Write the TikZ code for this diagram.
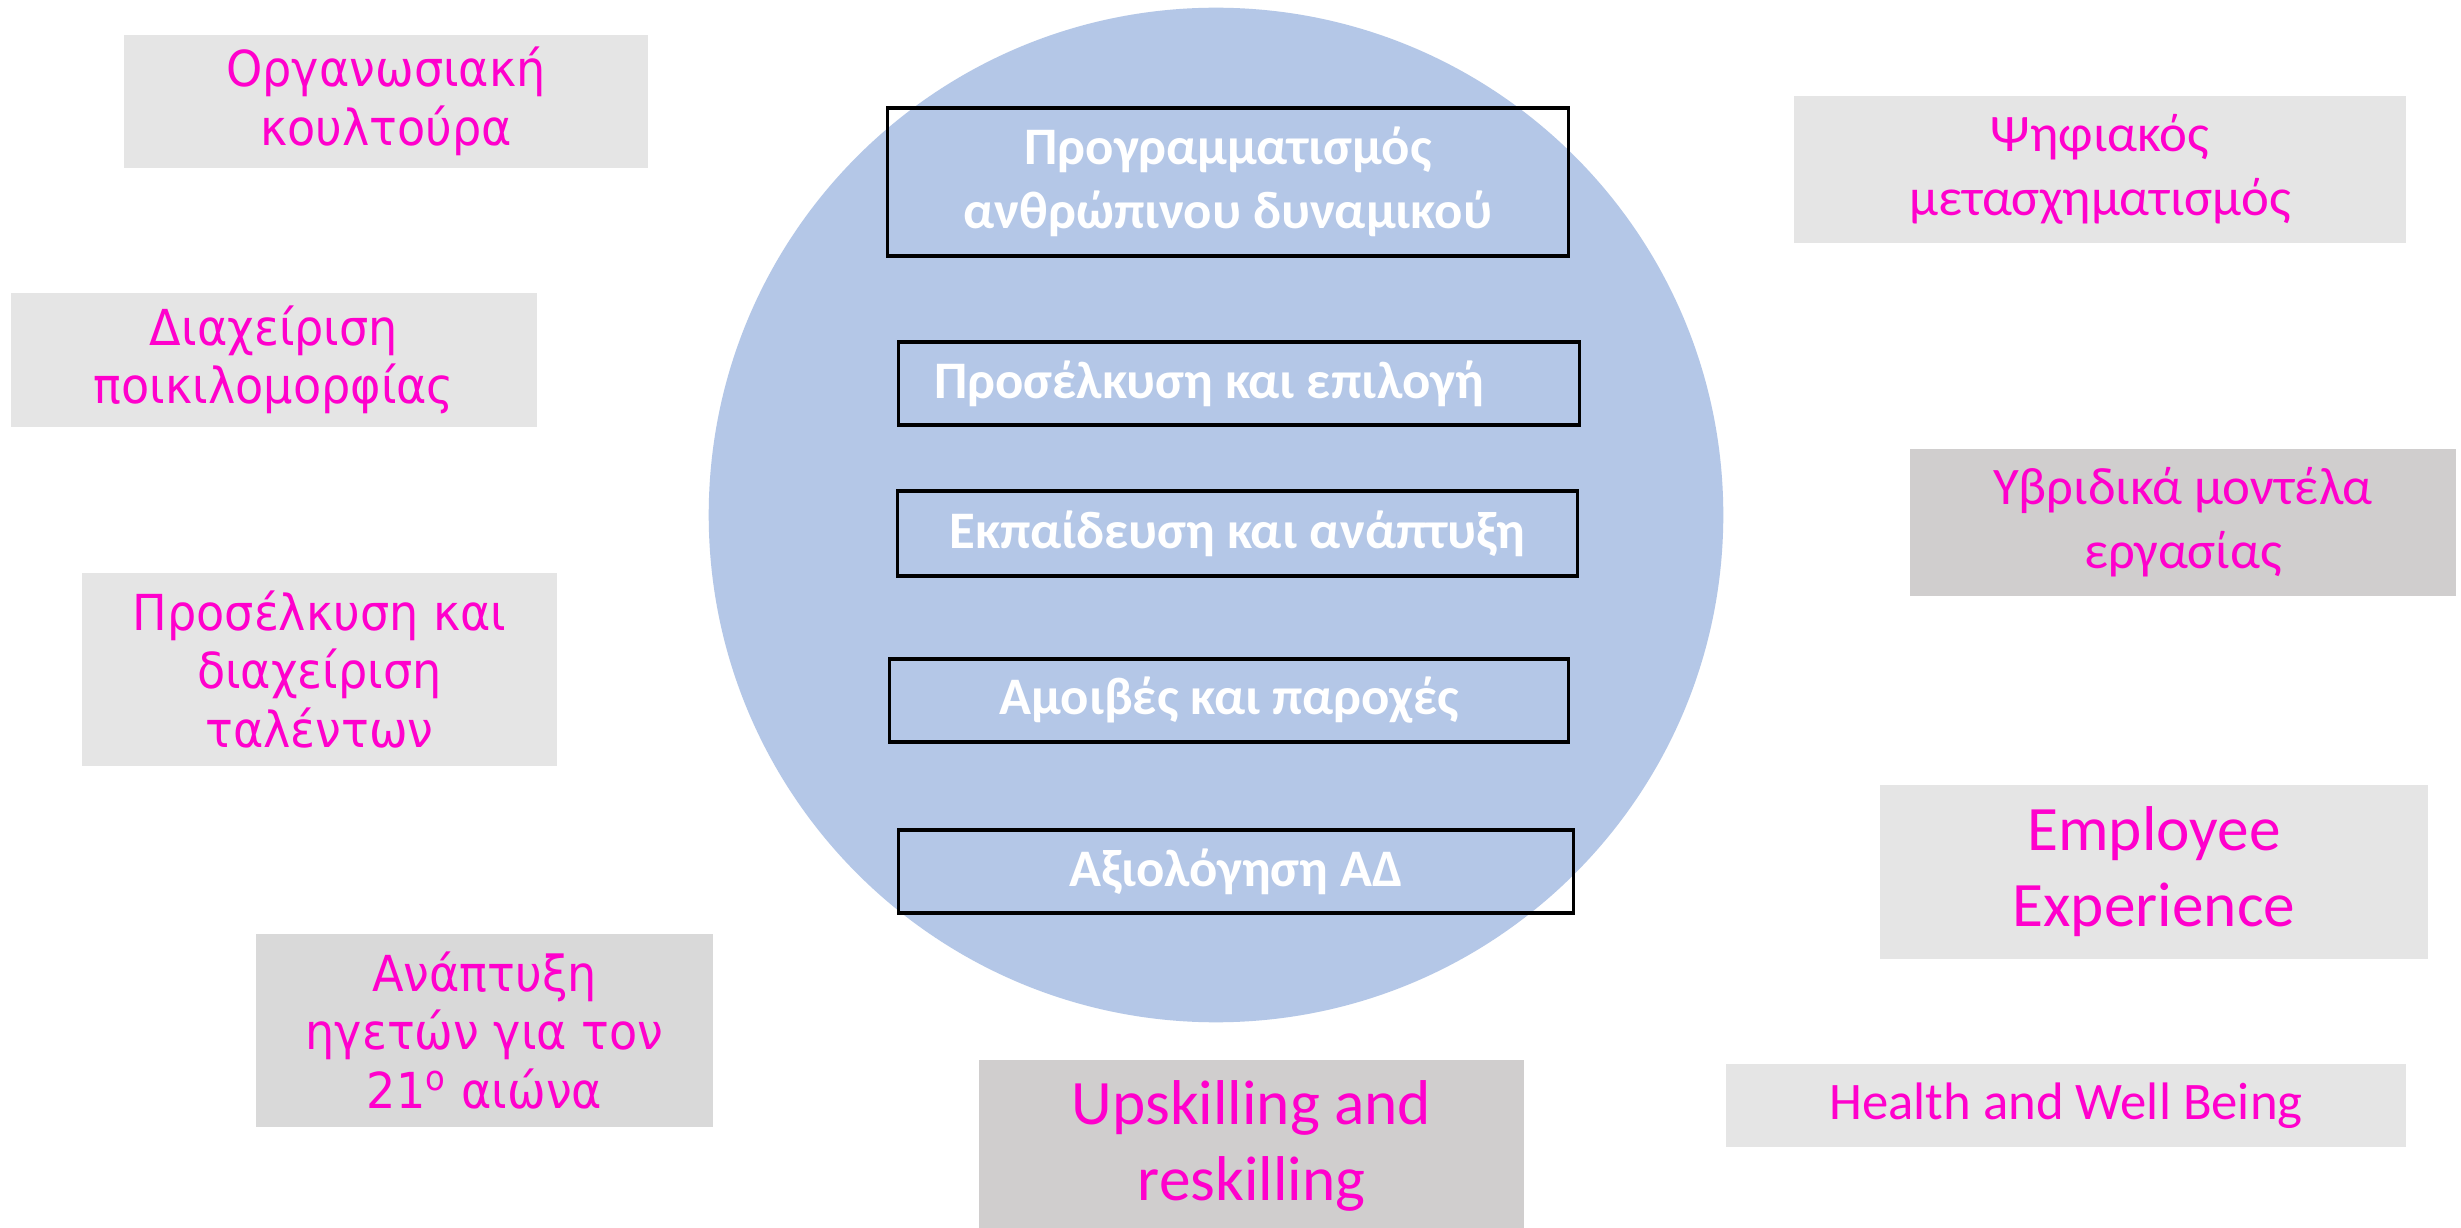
\documentclass[tikz,border=0pt]{standalone}
\usepackage{fontspec}
\setmainfont{Carlito}
\newfontfamily\tah[FakeStretch=0.93]{DejaVu Sans}
\definecolor{mag}{HTML}{FF00CC}
\definecolor{circ}{HTML}{B4C7E7}
\definecolor{lg}{HTML}{E5E5E5}
\definecolor{mg}{HTML}{D9D9D9}
\definecolor{dg}{HTML}{D0CECE}
\begin{document}
\begin{tikzpicture}[x=0.01cm,y=-0.01cm,
  sidebox/.style={rectangle, inner sep=0pt, align=center, text=mag},
  tahtext/.style={font=\tah\fontsize{14.1pt}{16.7pt}\selectfont},
  calt/.style={font=\fontsize{15pt}{18.3pt}\selectfont},
  calbig/.style={font=\fontsize{18pt}{21.6pt}\selectfont},
  corebox/.style={rectangle, draw=black, line width=0.9pt, inner sep=0pt, align=center, text=white,
     font=\bfseries\fontsize{15pt}{18.3pt}\selectfont}]
\useasboundingbox (0,0) rectangle (2461,1228);
\fill[white] (0,0) rectangle (2461,1228);
% hub circle
\node[circle, fill=circ, minimum size=10.14cm, inner sep=0pt] (hub) at (1216,515) {};
% core boxes
\node[corebox, minimum width=6.80cm, minimum height=1.48cm] (plan) at (1228,182) {Προγραμματισμός\\ανθρώπινου δυναμικού};
\node[corebox, minimum width=6.80cm, minimum height=0.83cm] (sel) at (1239,383.5) {Προσέλκυση και επιλογή\hspace*{17pt}};
\node[corebox, minimum width=6.79cm, minimum height=0.85cm] (train) at (1237.5,533.5) {Εκπαίδευση και ανάπτυξη};
\node[corebox, minimum width=6.78cm, minimum height=0.83cm] (pay) at (1229,700.5) {Αμοιβές και παροχές};
\node[corebox, minimum width=6.74cm, minimum height=0.83cm] (eval) at (1236,871.5) {Αξιολόγηση ΑΔ};
% left boxes
\node[sidebox, tahtext, fill=lg, minimum width=5.24cm, minimum height=1.33cm] (cult) at (386,101.5) {Οργανωσιακή\\κουλτούρα};
\node[sidebox, tahtext, fill=lg, minimum width=5.26cm, minimum height=1.34cm] (div) at (274,360) {Διαχείριση\\ποικιλομορφίας};
\node[sidebox, tahtext, fill=lg, minimum width=4.75cm, minimum height=1.93cm] (tal) at (319.5,669.5) {Προσέλκυση και\\διαχείριση\\ταλέντων};
\node[sidebox, tahtext, fill=mg, minimum width=4.57cm, minimum height=1.93cm] (lead) at (484.5,1030.5) {Ανάπτυξη\\ηγετών για τον\\21\textsuperscript{ο} αιώνα};
% bottom
\node[sidebox, calbig, fill=dg, minimum width=5.45cm, minimum height=1.72cm] (up) at (1251.5,1146) {Upskilling and\\reskilling};
% right boxes
\node[sidebox, calt, fill=lg, minimum width=6.12cm, minimum height=1.47cm] (dig) at (2100,169.5) {Ψηφιακός\\μετασχηματισμός};
\node[sidebox, calt, fill=dg, minimum width=5.46cm, minimum height=1.47cm] (hyb) at (2183,522.5) {Υβριδικά μοντέλα\\εργασίας};
\node[sidebox, calbig, fill=lg, minimum width=5.48cm, minimum height=1.74cm] (emp) at (2154,872) {\raisebox{0pt}{}Employee\\Experience};
\node[sidebox, font=\fontsize{15pt}{18pt}\selectfont, fill=lg, minimum width=6.80cm, minimum height=0.83cm] (health) at (2066,1105.5) {Health and Well Being};
\end{tikzpicture}
\end{document}
